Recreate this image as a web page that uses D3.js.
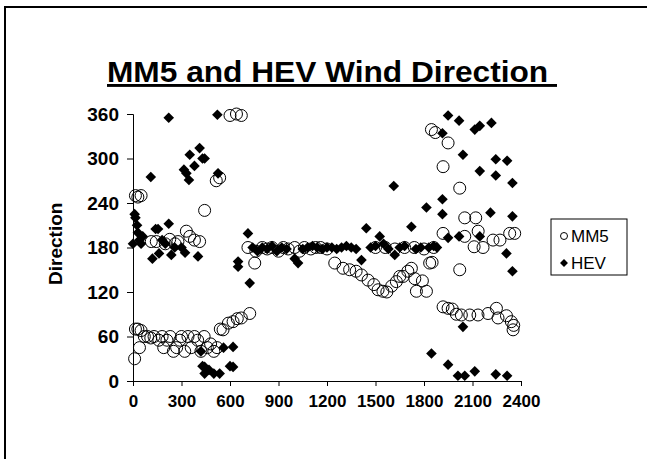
<!DOCTYPE html>
<html>
<head>
<meta charset="utf-8">
<script src="https://cdn.jsdelivr.net/npm/d3@7"></script>
<style>
    body { margin: 0; background: #fff; }
    text { font-family: Arial, "Liberation Sans", sans-serif; }
</style>
</head>
<body>
<svg id="chart"></svg>
<script>
let xTicks = [0, 300, 600, 900, 1200, 1500, 1800, 2100, 2400];
let yTicks = [0, 60, 120, 180, 240, 300, 360];
let seriesNames = ['MM5', 'HEV'];

// MM5 model wind direction (time, degrees)
let mm5Time = [10, 15, 30, 40, 50, 70, 90, 110, 130, 160, 180, 190, 210, 230, 250, 270, 290, 300, 320, 340,
    360, 380, 400, 420, 440, 460, 480, 500, 520, 540, 557, 590, 619, 645, 670, 722,
    15, 30, 50, 113, 144, 200, 227, 260, 278, 330, 351, 380, 412, 443, 515, 536, 600, 640, 670,
    711, 753, 760, 800, 830, 860, 900, 930, 960, 1000, 1030, 1060, 1100, 1130, 1160, 1200,
    1248, 1299, 1340, 1380, 1413, 1454, 1490, 1516, 1546, 1570, 1600, 1629, 1650, 1671, 1700, 1722, 1743, 1753, 1790, 1815, 1835, 1850,
    1500, 1560, 1620, 1680, 1740, 1800, 1860,
    1846, 1870, 1918, 1949, 1918, 1918, 1949, 1975, 2000, 2021, 2021, 2031, 2052, 2052, 2083, 2110, 2120, 2134, 2135, 2165,
    2196, 2227, 2248, 2258, 2270, 2310, 2330, 2340, 2351, 2361, 2355];
let mm5Dir = [30, 70, 70, 45, 68, 60, 60, 58, 60, 55, 60, 45, 55, 60, 40, 45, 55, 60, 40, 60,
    45, 60, 55, 40, 60, 45, 50, 40, 45, 70, 69, 78, 80, 84, 85, 91,
    250, 248, 250, 188, 188, 185, 191, 185, 188, 202, 195, 190, 188, 230, 270, 274, 358, 360, 358,
    180, 159, 175, 180, 178, 180, 175, 180, 178, 180, 175, 180, 178, 180, 180, 178,
    159, 152, 150, 148, 143, 136, 130, 123, 121, 120, 128, 134, 141, 141, 148, 152, 138, 121, 135, 121, 159, 160,
    180, 180, 178, 180, 180, 178, 180,
    339, 335, 289, 321, 199, 100, 98, 97, 90, 260, 150, 89, 220, 195, 89, 181, 220, 89, 202, 180,
    91, 190, 98, 85, 190, 88, 199, 80, 69, 199, 75];

// HEV measured wind direction (time, degrees)
let hevTime = [0, 10, 15, 25, 30, 40, 50, 60, 110, 120, 140, 155, 161, 180, 200, 221, 221, 237, 258, 300,
    322, 315, 330, 346, 351, 380, 402, 412, 430, 443, 420, 430, 443, 443, 470, 500, 522, 526, 536, 560,
    600, 619, 619, 650, 650, 711, 722,
    740, 770, 800, 830, 860, 890, 920, 950, 1000, 1021, 1050, 1080, 1110, 1140, 1170, 1200, 1230, 1260, 1290, 1320,
    1350, 1380, 1413, 1443, 1470, 1500, 1526, 1550, 1580, 1613, 1619, 1650, 1680, 1722, 1750, 1780, 1815, 1830, 1860, 1880,
    1846, 1914, 1914, 1914, 1949, 1949, 1949, 2010, 2017, 2017, 2041, 2041, 2052, 2114, 2114, 2145, 2145, 2145,
    2217, 2211, 2244, 2244, 2244, 2314, 2310, 2314, 2347, 2347, 2347];
let hevDir = [185, 225, 220, 210, 200, 190, 185, 195, 275, 165, 205, 205, 172, 190, 185, 355, 212, 170, 180, 180,
    173, 285, 280, 271, 305, 290, 168, 314, 300, 300, 40, 20, 10, 19, 15, 10, 359, 280, 10, 45,
    20, 46, 19, 161, 154, 199, 132,
    180, 175, 180, 178, 182, 175, 180, 178, 165, 159, 178, 180, 182, 180, 178, 180, 180, 178, 180, 182,
    180, 178, 163, 206, 180, 182, 195, 185, 178, 263, 170, 180, 182, 208, 178, 180, 234, 180, 182, 180,
    37, 245, 225, 334, 358, 193, 22, 7, 351, 195, 305, 73, 7, 339, 13, 344, 283, 195,
    348, 227, 299, 277, 9, 297, 172, 7, 267, 222, 148];

let mm5 = mm5Time.map(function (t, i) { return {t: t, dir: mm5Dir[i]}; });
let hev = hevTime.map(function (t, i) { return {t: t, dir: hevDir[i]}; });

let width = 647;
let height = 459;
let margin = {top: 114, right: 126, bottom: 78, left: 133};

let svg = d3.select('#chart')
    .attr('width', width)
    .attr('height', height);

svg.append('rect')
    .attr('width', width)
    .attr('height', height)
    .attr('fill', '#fff');

// slide frame (only left and top edges visible)
svg.append('path')
    .attr('d', 'M5,' + height + 'V7H' + width)
    .attr('fill', 'none')
    .attr('stroke', '#000')
    .attr('stroke-width', 2);

let xScale = d3.scaleLinear()
    .domain([0, 2400])
    .range([margin.left, width - margin.right]);

let yScale = d3.scaleLinear()
    .domain([0, 360])
    .range([height - margin.bottom, margin.top]);

// title
svg.append('text')
    .attr('x', 107)
    .attr('y', 82)
    .attr('textLength', 450)
    .attr('lengthAdjust', 'spacingAndGlyphs')
    .style('font-size', '29px')
    .style('font-weight', 'bold')
    .style('text-decoration', 'underline')
    .text('MM5 and HEV Wind Direction\u00a0');

// axes
let xAxis = d3.axisBottom(xScale).tickValues(xTicks).tickFormat(d3.format('d')).tickSize(5).tickPadding(9);
let gx = svg.append('g')
    .attr('class', 'axis')
    .attr('transform', 'translate(0,' + yScale(0) + ')')
    .call(xAxis);

let yAxis = d3.axisLeft(yScale).tickValues(yTicks).tickFormat(d3.format('d')).tickSize(6).tickPadding(8);
let gy = svg.append('g')
    .attr('class', 'axis')
    .attr('transform', 'translate(' + xScale(0) + ',0)')
    .call(yAxis);

svg.selectAll('.axis .domain')
    .attr('stroke', '#000');
svg.selectAll('.axis .tick line')
    .attr('stroke', '#000');
svg.selectAll('.axis text')
    .attr('fill', '#000')
    .style('font-family', 'Arial, "Liberation Sans", sans-serif')
    .style('font-weight', 'bold');
gx.selectAll('text').style('font-size', '17px');
gy.selectAll('text').style('font-size', '19px');

svg.append('text')
    .attr('transform', 'translate(62,' + yScale(185) + ') rotate(-90)')
    .attr('text-anchor', 'middle')
    .style('font-size', '19px')
    .style('font-weight', 'bold')
    .text('Direction');

// MM5 circles
svg.append('g')
    .selectAll('circle')
    .data(mm5)
    .enter().append('circle')
    .attr('cx', d => xScale(d.t))
    .attr('cy', d => yScale(d.dir))
    .attr('r', 6)
    .attr('fill', 'none')
    .attr('stroke', '#000')
    .attr('stroke-width', 1);

// HEV diamonds
let diamond = d3.symbol().type(d3.symbolDiamond2).size(72);
svg.append('g')
    .selectAll('path')
    .data(hev)
    .enter().append('path')
    .attr('transform', d => 'translate(' + xScale(d.t) + ',' + yScale(d.dir) + ')')
    .attr('d', diamond)
    .attr('fill', '#000');

// legend
let legend = svg.append('g')
    .attr('transform', 'translate(551,219)');

legend.append('rect')
    .attr('width', 76)
    .attr('height', 56)
    .attr('fill', '#fff')
    .attr('stroke', '#000')
    .attr('stroke-width', 1);

legend.append('circle')
    .attr('cx', 13)
    .attr('cy', 17)
    .attr('r', 3.5)
    .attr('fill', 'none')
    .attr('stroke', '#000');

legend.append('path')
    .attr('transform', 'translate(13,44)')
    .attr('d', d3.symbol().type(d3.symbolDiamond2).size(40))
    .attr('fill', '#000');

legend.selectAll('.label')
    .data(seriesNames)
    .enter().append('text')
    .attr('class', 'label')
    .attr('x', 20)
    .attr('y', (d, i) => 23 + i * 27)
    .style('font-size', '17px')
    .text(d => d);
</script>
</body>
</html>
